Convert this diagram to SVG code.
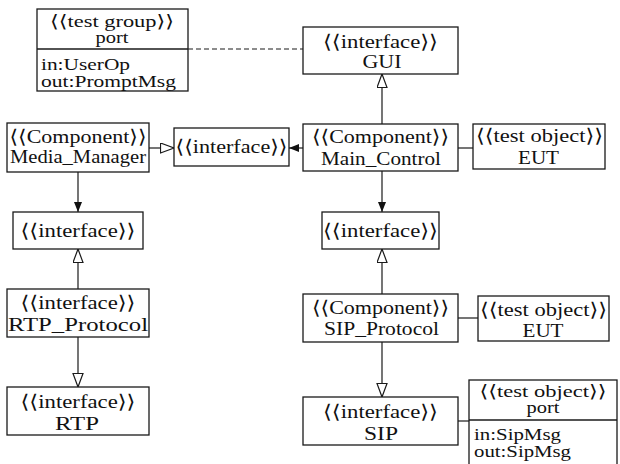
<svg xmlns="http://www.w3.org/2000/svg" width="620" height="464" viewBox="0 0 620 464">
  <style>
    .box { fill: #fff; stroke: #1a1a1a; stroke-width: 1.3; }
    .div { stroke: #1a1a1a; stroke-width: 1.3; }
    .t { font-family: "Liberation Serif", "DejaVu Serif", serif; font-size: 19px; fill: #111; text-anchor: middle; }
    .s { font-size: 17.5px; }
    .l { text-anchor: start; }
    .edge { fill: none; stroke: #1a1a1a; stroke-width: 1.2; }
    .dash { stroke-dasharray: 5 3; }
  </style>
  <defs>
    <marker id="hollow" markerUnits="userSpaceOnUse" markerWidth="16" markerHeight="12" refX="14" refY="5.5" orient="auto">
      <path d="M0.5,0.5 L14,5.5 L0.5,10.5 Z" fill="#fff" stroke="#1a1a1a" stroke-width="1.2"/>
    </marker>
    <marker id="filled" markerUnits="userSpaceOnUse" markerWidth="11" markerHeight="9" refX="10" refY="4" orient="auto">
      <path d="M0,0 L10,4 L0,8 Z" fill="#111"/>
    </marker>
  </defs>

  <!-- links between the blocks -->
  <g id="connectors">
    <path class="edge dash" d="M188,49 H303"/>
    <path class="edge" d="M382,124 V74" marker-end="url(#hollow)"/>
    <path class="edge" d="M149,148 H174" marker-end="url(#hollow)"/>
    <path class="edge" d="M303,148 H289" marker-end="url(#filled)"/>
    <path class="edge" d="M458,148 H473"/>
    <path class="edge" d="M78,172 V212" marker-end="url(#filled)"/>
    <path class="edge" d="M78,289 V249" marker-end="url(#hollow)"/>
    <path class="edge" d="M78,337 V387" marker-end="url(#hollow)"/>
    <path class="edge" d="M382,171 V212" marker-end="url(#filled)"/>
    <path class="edge" d="M382,294 V249" marker-end="url(#hollow)"/>
    <path class="edge" d="M458,318 H478"/>
    <path class="edge" d="M382,342 V397" marker-end="url(#hollow)"/>
    <path class="edge" d="M458,421 H469"/>
  </g>

  <g id="testgroup-port">
    <rect class="box" x="37" y="9" width="151" height="82"/>
    <line class="div" x1="37" y1="49" x2="188" y2="49"/>
    <text class="t s" x="112" y="27" textLength="124" lengthAdjust="spacingAndGlyphs">⟨⟨test group⟩⟩</text>
    <text class="t s" x="112" y="43" textLength="33" lengthAdjust="spacingAndGlyphs">port</text>
    <text class="t s l" x="41" y="70" textLength="89" lengthAdjust="spacingAndGlyphs">in:UserOp</text>
    <text class="t s l" x="41" y="87" textLength="135" lengthAdjust="spacingAndGlyphs">out:PromptMsg</text>
  </g>

  <g id="gui">
    <rect class="box" x="303" y="27" width="155" height="47"/>
    <text class="t" x="380.5" y="48" textLength="115" lengthAdjust="spacingAndGlyphs">⟨⟨interface⟩⟩</text>
    <text class="t" x="382" y="68" textLength="39" lengthAdjust="spacingAndGlyphs">GUI</text>
  </g>

  <g id="media-manager">
    <rect class="box" x="7" y="123" width="142" height="49"/>
    <text class="t" x="78" y="143" textLength="137" lengthAdjust="spacingAndGlyphs">⟨⟨Component⟩⟩</text>
    <text class="t" x="78" y="163" textLength="136" lengthAdjust="spacingAndGlyphs">Media_Manager</text>
  </g>

  <g id="interface-mid">
    <rect class="box" x="174" y="128" width="115" height="38"/>
    <text class="t" x="231.5" y="153" textLength="112" lengthAdjust="spacingAndGlyphs">⟨⟨interface⟩⟩</text>
  </g>

  <g id="main-control">
    <rect class="box" x="303" y="124" width="155" height="47"/>
    <text class="t" x="380.5" y="143" textLength="137" lengthAdjust="spacingAndGlyphs">⟨⟨Component⟩⟩</text>
    <text class="t" x="381" y="165" textLength="120" lengthAdjust="spacingAndGlyphs">Main_Control</text>
  </g>

  <g id="eut-main">
    <rect class="box" x="473" y="124" width="132" height="45"/>
    <text class="t" x="539.5" y="142" textLength="127" lengthAdjust="spacingAndGlyphs">⟨⟨test object⟩⟩</text>
    <text class="t" x="538.5" y="164" textLength="41" lengthAdjust="spacingAndGlyphs">EUT</text>
  </g>

  <g id="interface-left">
    <rect class="box" x="13" y="212" width="130" height="37"/>
    <text class="t" x="78" y="237" textLength="115" lengthAdjust="spacingAndGlyphs">⟨⟨interface⟩⟩</text>
  </g>

  <g id="rtp-protocol">
    <rect class="box" x="7" y="289" width="142" height="48"/>
    <text class="t" x="78" y="309" textLength="115" lengthAdjust="spacingAndGlyphs">⟨⟨interface⟩⟩</text>
    <text class="t" x="78" y="331" textLength="140" lengthAdjust="spacingAndGlyphs">RTP_Protocol</text>
  </g>

  <g id="rtp">
    <rect class="box" x="7" y="387" width="142" height="48"/>
    <text class="t" x="78" y="408" textLength="115" lengthAdjust="spacingAndGlyphs">⟨⟨interface⟩⟩</text>
    <text class="t" x="77" y="430" textLength="44" lengthAdjust="spacingAndGlyphs">RTP</text>
  </g>

  <g id="interface-right">
    <rect class="box" x="322" y="212" width="117" height="37"/>
    <text class="t" x="380.5" y="237" textLength="115" lengthAdjust="spacingAndGlyphs">⟨⟨interface⟩⟩</text>
  </g>

  <g id="sip-protocol">
    <rect class="box" x="303" y="294" width="155" height="48"/>
    <text class="t" x="380.5" y="314" textLength="137" lengthAdjust="spacingAndGlyphs">⟨⟨Component⟩⟩</text>
    <text class="t" x="381.5" y="335" textLength="115" lengthAdjust="spacingAndGlyphs">SIP_Protocol</text>
  </g>

  <g id="eut-sip">
    <rect class="box" x="478" y="296" width="131" height="45"/>
    <text class="t" x="543.5" y="316" textLength="127" lengthAdjust="spacingAndGlyphs">⟨⟨test object⟩⟩</text>
    <text class="t" x="543" y="337" textLength="41" lengthAdjust="spacingAndGlyphs">EUT</text>
  </g>

  <g id="sip">
    <rect class="box" x="303" y="397" width="155" height="48"/>
    <text class="t" x="380.5" y="418" textLength="115" lengthAdjust="spacingAndGlyphs">⟨⟨interface⟩⟩</text>
    <text class="t" x="381" y="440" textLength="34" lengthAdjust="spacingAndGlyphs">SIP</text>
  </g>

  <g id="testobject-port">
    <rect class="box" x="469" y="380" width="148" height="90"/>
    <line class="div" x1="469" y1="420" x2="617" y2="420"/>
    <text class="t s" x="543" y="397" textLength="127" lengthAdjust="spacingAndGlyphs">⟨⟨test object⟩⟩</text>
    <text class="t s" x="543" y="413" textLength="33" lengthAdjust="spacingAndGlyphs">port</text>
    <text class="t s l" x="474" y="440" textLength="87" lengthAdjust="spacingAndGlyphs">in:SipMsg</text>
    <text class="t s l" x="474" y="457" textLength="97" lengthAdjust="spacingAndGlyphs">out:SipMsg</text>
  </g>
</svg>
